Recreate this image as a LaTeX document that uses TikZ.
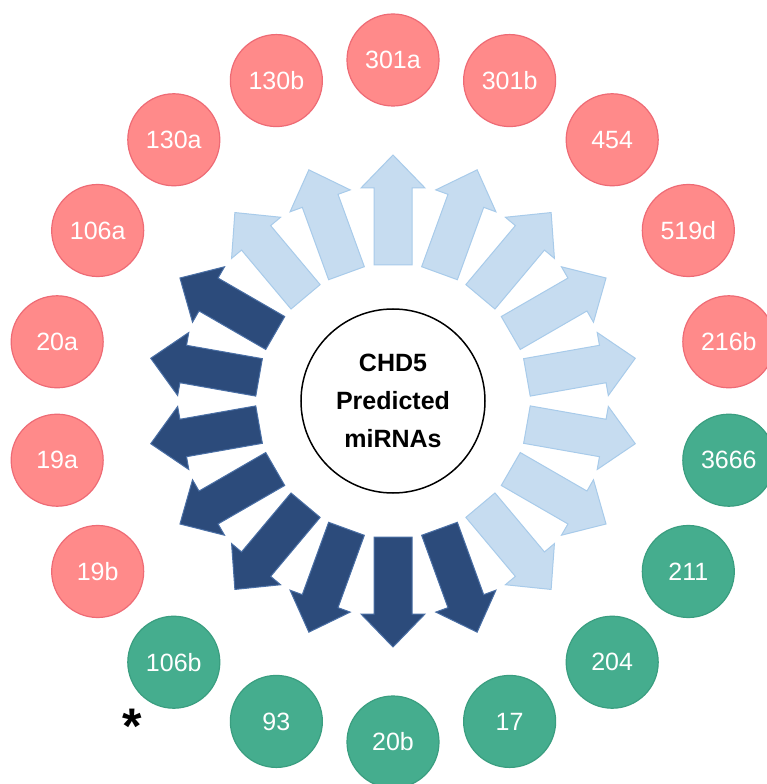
\documentclass[tikz,border=0pt]{standalone}
\usepackage{fontspec}
\setmainfont{Liberation Sans}
\definecolor{pinkfill}{HTML}{FF8A8A}
\definecolor{pinkline}{HTML}{EE6B75}
\definecolor{greenfill}{HTML}{45AD8E}
\definecolor{greenline}{HTML}{3A9E80}
\definecolor{darkfill}{HTML}{2C4B7B}
\definecolor{darkline}{HTML}{4A6FA5}
\definecolor{lightfill}{HTML}{C6DCF0}
\definecolor{lightline}{HTML}{A8CBEA}
\tikzset{
  mirna/.style={circle, minimum size=92pt, inner sep=0pt, line width=1.2pt,
    text=white, font=\fontsize{25}{30}\selectfont},
  pinkc/.style={mirna, fill=pinkfill, draw=pinkline},
  greenc/.style={mirna, fill=greenfill, draw=greenline},
  darkarrow/.style={fill=darkfill, draw=darkline, line width=1pt, line join=miter},
  lightarrow/.style={fill=lightfill, draw=lightline, line width=1pt, line join=miter},
}
\begin{document}
\begin{tikzpicture}[x=1pt,y=1pt]
\useasboundingbox (-393pt,-383pt) rectangle (373pt,401pt);
\fill[white] (-393pt,-383pt) rectangle (373pt,401pt);
% arrows
\foreach \a in {130,110,90,70,50,30,10,-10,-30,-50}{
  \begin{scope}[rotate=\a]
    \path[lightarrow] (136,-19) -- (213,-19) -- (213,-32) -- (246,0) -- (213,32) -- (213,19) -- (136,19) -- cycle;
  \end{scope}
}
\foreach \a in {150,170,190,210,230,250,270,290}{
  \begin{scope}[rotate=\a]
    \path[darkarrow] (136,-19) -- (213,-19) -- (213,-32) -- (246,0) -- (213,32) -- (213,19) -- (136,19) -- cycle;
  \end{scope}
}
% centre
\node[circle, draw=black, line width=1.5pt, minimum size=184pt, inner sep=0pt,
  align=center, font=\bfseries\fontsize{25}{38}\selectfont] (center) at (0,0)
  {CHD5\\Predicted\\miRNAs};
% miRNA circles
\node[pinkc] (m301a) at (90:341pt) {301a};
\node[pinkc] (m301b) at (70:341pt) {301b};
\node[pinkc] (m454) at (50:341pt) {454};
\node[pinkc] (m519d) at (30:341pt) {519d};
\node[pinkc] (m216b) at (10:341pt) {216b};
\node[greenc] (m3666) at (-10:341pt) {3666};
\node[greenc] (m211) at (-30:341pt) {211};
\node[greenc] (m204) at (-50:341pt) {204};
\node[greenc] (m17) at (-70:341pt) {17};
\node[greenc] (m20b) at (-90:341pt) {20b};
\node[greenc] (m93) at (-110:341pt) {93};
\node[greenc] (m106b) at (-130:341pt) {106b};
\node[pinkc] (m19b) at (-150:341pt) {19b};
\node[pinkc] (m19a) at (-170:341pt) {19a};
\node[pinkc] (m20a) at (170:341pt) {20a};
\node[pinkc] (m106a) at (150:341pt) {106a};
\node[pinkc] (m130a) at (130:341pt) {130a};
\node[pinkc] (m130b) at (110:341pt) {130b};
% asterisk
\node[anchor=base, inner sep=0pt, font=\bfseries\fontsize{50}{50}\selectfont] (star) at (-261pt,-342pt) {*};
\end{tikzpicture}
\end{document}
